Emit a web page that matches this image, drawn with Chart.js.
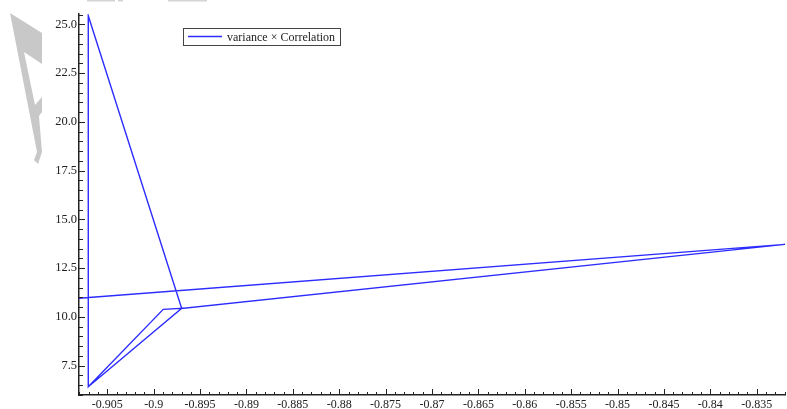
<!DOCTYPE html>
<html>
<head>
<meta charset="utf-8">
<script src="https://cdn.jsdelivr.net/npm/chart.js@4/dist/chart.umd.min.js"></script>
<style>
  html, body { margin: 0; padding: 0; background: #fff; }
  #wrap { width: 787px; height: 409px; }
</style>
</head>
<body>
<div id="wrap"><canvas id="c" width="787" height="409"></canvas></div>
<script>
// Trajectory of the (x, y) pairs, in drawing order
const xValues = [-0.90805, -0.83195, -0.89698, -0.90705, -0.90705, -0.89897, -0.89698, -0.90705];
const yValues = [10.96, 13.72, 10.44, 25.44, 6.42, 10.39, 10.44, 6.42];
const seriesLabel = 'variance \u00d7 Correlation';

// Axis ranges and tick labels
const xRange = [-0.90805, -0.83195];
const yRange = [6.0, 25.53];
const xTickValues = [-0.905, -0.9, -0.895, -0.89, -0.885, -0.88, -0.875, -0.87, -0.865, -0.86, -0.855, -0.85, -0.845, -0.84, -0.835];
const xTickLabels = ['-0.905', '-0.9', '-0.895', '-0.89', '-0.885', '-0.88', '-0.875', '-0.87', '-0.865', '-0.86', '-0.855', '-0.85', '-0.845', '-0.84', '-0.835'];
const yTickValues = [7.5, 10, 12.5, 15, 17.5, 20, 22.5, 25];
const yTickLabels = ['7.5', '10.0', '12.5', '15.0', '17.5', '20.0', '22.5', '25.0'];
const xMinorStep = 0.001;
const yMinorStep = 0.5;

const points = xValues.map((x, i) => ({ x: x, y: yValues[i] }));
const LINE_COLOR = 'rgb(44,44,255)';
const SERIF = '"Liberation Serif", "Times New Roman", serif';

// Grey decoration in the upper-left corner
const decorPlugin = {
  id: 'decor',
  beforeDraw(chart) {
    const ctx = chart.ctx;
    ctx.save();
    ctx.fillStyle = '#c8c8c8';
    ctx.beginPath();
    ctx.moveTo(10, 13);
    ctx.lineTo(42, 33);
    ctx.lineTo(42, 64);
    ctx.lineTo(24, 52);
    ctx.lineTo(35, 105);
    ctx.lineTo(42, 97);
    ctx.lineTo(42, 112);
    ctx.lineTo(39, 116);
    ctx.lineTo(42, 152);
    ctx.lineTo(38, 164);
    ctx.lineTo(34, 160);
    ctx.lineTo(37, 152);
    ctx.closePath();
    ctx.fill();
    ctx.fillStyle = '#d4d4d4';
    ctx.fillRect(87, 0, 28, 1.5);
    ctx.fillRect(118, 0, 5, 1.5);
    ctx.fillRect(168, 0, 39, 1.5);
    ctx.restore();
  }
};

// Inward major and minor tick marks on both axes
const ticksPlugin = {
  id: 'innerTicks',
  afterDraw(chart) {
    const ctx = chart.ctx;
    const xs = chart.scales.x, ys = chart.scales.y;
    const area = chart.chartArea;
    ctx.save();
    ctx.strokeStyle = '#222';
    ctx.lineWidth = 1;
    ctx.beginPath();
    const nx = Math.round((xRange[1] - xRange[0]) / xMinorStep) + 2;
    const x0 = Math.ceil(xRange[0] / xMinorStep) * xMinorStep;
    for (let i = 0; i < nx; i++) {
      const v = x0 + i * xMinorStep;
      if (v > xRange[1]) break;
      const isMajor = xTickValues.some(t => Math.abs(t - v) < 1e-7);
      const px = Math.round(xs.getPixelForValue(v)) + 0.5;
      ctx.moveTo(px, area.bottom);
      ctx.lineTo(px, area.bottom - (isMajor ? 6 : 3));
    }
    const ny = Math.round((yRange[1] - yRange[0]) / yMinorStep) + 2;
    const y0 = Math.ceil(yRange[0] / yMinorStep) * yMinorStep;
    for (let i = 0; i < ny; i++) {
      const v = y0 + i * yMinorStep;
      if (v > yRange[1]) break;
      const isMajor = yTickValues.some(t => Math.abs(t - v) < 1e-7);
      const py = Math.round(ys.getPixelForValue(v)) + 0.5;
      ctx.moveTo(area.left, py);
      ctx.lineTo(area.left + (isMajor ? 6 : 4), py);
    }
    ctx.stroke();
    ctx.restore();
  }
};

// Boxed legend inside the plot
const legendBoxPlugin = {
  id: 'legendBox',
  afterDraw(chart) {
    const ctx = chart.ctx;
    ctx.save();
    ctx.fillStyle = '#fff';
    ctx.fillRect(183.5, 28.5, 157, 17);
    ctx.strokeStyle = '#444';
    ctx.lineWidth = 1;
    ctx.strokeRect(183.5, 28.5, 157, 17);
    ctx.strokeStyle = LINE_COLOR;
    ctx.lineWidth = 1.3;
    ctx.beginPath();
    ctx.moveTo(188, 36.5);
    ctx.lineTo(222, 36.5);
    ctx.stroke();
    ctx.fillStyle = '#222';
    ctx.font = '12px ' + SERIF;
    ctx.textBaseline = 'alphabetic';
    ctx.textAlign = 'left';
    ctx.fillText(chart.data.datasets[0].label, 227, 40.5);
    ctx.restore();
  }
};

new Chart(document.getElementById('c'), {
  type: 'scatter',
  data: {
    datasets: [{
      label: seriesLabel,
      data: points,
      showLine: true,
      borderColor: LINE_COLOR,
      backgroundColor: LINE_COLOR,
      borderWidth: 1.4,
      pointRadius: 0,
      pointHoverRadius: 0,
      tension: 0,
      fill: false
    }]
  },
  options: {
    responsive: false,
    animation: false,
    events: [],
    layout: { padding: { top: 14, right: 2, left: 0, bottom: 0 } },
    plugins: {
      legend: { display: false },
      tooltip: { enabled: false }
    },
    scales: {
      x: {
        type: 'linear',
        min: xRange[0],
        max: xRange[1],
        afterBuildTicks(scale) { scale.ticks = xTickValues.map(v => ({ value: v })); },
        afterFit(scale) { scale.height = 14; },
        grid: { display: false, drawTicks: false },
        border: { display: true, color: '#222', width: 1.5 },
        ticks: {
          autoSkip: false,
          maxRotation: 0,
          padding: 3,
          color: '#222',
          font: { family: SERIF, size: 12 },
          callback(value, index) { return xTickLabels[index]; }
        }
      },
      y: {
        type: 'linear',
        min: yRange[0],
        max: yRange[1],
        afterBuildTicks(scale) { scale.ticks = yTickValues.map(v => ({ value: v })); },
        afterFit(scale) { scale.width = 79; },
        grid: { display: false, drawTicks: false },
        border: { display: true, color: '#222', width: 1.5 },
        ticks: {
          autoSkip: false,
          padding: 2,
          color: '#222',
          font: { family: SERIF, size: 12.5 },
          callback(value, index) { return yTickLabels[index]; }
        }
      }
    }
  },
  plugins: [decorPlugin, ticksPlugin, legendBoxPlugin]
});
</script>
</body>
</html>
